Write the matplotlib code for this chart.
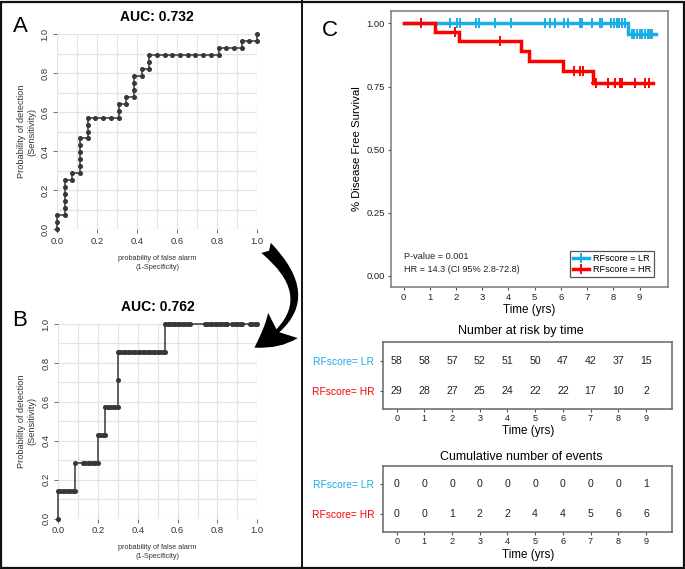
import matplotlib
matplotlib.use('Agg')
import matplotlib.pyplot as plt
from matplotlib.patches import FancyArrowPatch, Rectangle
from matplotlib.lines import Line2D
import numpy as np

plt.rcParams['font.family'] = ['Liberation Sans', 'DejaVu Sans']

W, H = 685, 569
fig = plt.figure(figsize=(W / 100, H / 100), dpi=100)

# ---------------- data ----------------
# ROC A: false positives out of 26, true positives out of 28 at each threshold
roc_a_fp = [0, 0, 0, 1, 1, 1, 1, 1, 1, 2, 2, 3, 3, 3, 3, 3, 3, 4, 4, 4, 4, 5, 6, 7, 8,
            8, 8, 9, 9, 10, 10, 10, 10, 11, 11, 12, 12, 12, 13, 14, 15, 16, 17, 18, 19,
            20, 21, 21, 22, 23, 24, 24, 25, 26, 26]
roc_a_tp = [0, 1, 2, 2, 3, 4, 5, 6, 7, 7, 8, 8, 9, 10, 11, 12, 13, 13, 14, 15, 16, 16, 16, 16, 16,
            17, 18, 18, 19, 19, 20, 21, 22, 22, 23, 23, 24, 25, 25, 25, 25, 25, 25, 25, 25,
            25, 25, 26, 26, 26, 26, 27, 27, 27, 28]
roc_a_neg, roc_a_pos = 26, 28
roc_a_auc = "AUC: 0.732"

# ROC B: false positives out of 80, true positives out of 7
roc_b_fp = [0, 0, 1, 2, 3, 4, 5, 6, 7, 7, 10, 11, 12, 13, 14, 15, 16, 16, 17, 18, 19, 19,
            20, 21, 22, 23, 24, 24, 24, 25, 26, 27, 28, 29, 30, 31, 32, 33, 34, 35, 36, 37,
            38, 39, 40, 41, 42, 43, 43, 44, 45, 46, 47, 48, 49, 50, 51, 52, 53, 59, 60, 61,
            62, 63, 64, 65, 66, 67, 68, 70, 71, 72, 73, 74, 77, 78, 79, 80]
roc_b_tp = [0, 1, 1, 1, 1, 1, 1, 1, 1, 2, 2, 2, 2, 2, 2, 2, 2, 3, 3, 3, 3, 4,
            4, 4, 4, 4, 4, 5, 6, 6, 6, 6, 6, 6, 6, 6, 6, 6, 6, 6, 6, 6,
            6, 6, 6, 6, 6, 6, 7, 7, 7, 7, 7, 7, 7, 7, 7, 7, 7, 7, 7, 7,
            7, 7, 7, 7, 7, 7, 7, 7, 7, 7, 7, 7, 7, 7, 7, 7]
roc_b_neg, roc_b_pos = 80, 7
roc_b_auc = "AUC: 0.762"

# Kaplan-Meier
lr_event_times = [8.57]
lr_surv = [0.957]
lr_end = 9.63
lr_censor = [1.76, 2.04, 2.17, 2.78, 2.88, 3.48, 4.09, 5.41, 5.60, 5.79, 6.12, 6.27,
             6.71, 6.79, 7.18, 7.50, 7.57, 7.92, 8.04, 8.13, 8.23, 8.34, 8.43,
             8.70, 8.80, 8.90, 9.00, 9.10, 9.20, 9.30, 9.40, 9.48]
hr_event_times = [1.20, 2.10, 4.47, 4.78, 6.08, 7.22]
hr_surv = [0.964, 0.929, 0.890, 0.851, 0.813, 0.762]
hr_end = 9.50
hr_censor = [0.66, 1.95, 3.69, 6.48, 6.71, 6.86, 7.32, 7.79, 8.05, 8.24, 8.34,
             8.81, 9.19, 9.35]

groups = ["RFscore= LR", "RFscore= HR"]
legend_labels = ["RFscore = LR", "RFscore = HR"]
table_times = [0, 1, 2, 3, 4, 5, 6, 7, 8, 9]
risk_lr = [58, 58, 57, 52, 51, 50, 47, 42, 37, 15]
risk_hr = [29, 28, 27, 25, 24, 22, 22, 17, 10, 2]
events_lr = [0, 0, 0, 0, 0, 0, 0, 0, 0, 1]
events_hr = [0, 0, 1, 2, 2, 4, 4, 5, 6, 6]

BLUE = '#1aaee5'
RED = '#ff0000'


def ax_px(l, t, r, b):
    return fig.add_axes([l / W, 1 - b / H, (r - l) / W, (b - t) / H])


def ftext(x, y, s, **kw):
    return fig.text(x / W, 1 - y / H, s, **kw)


# ---------------- ROC panels ----------------
def roc_panel(box, fp, tp, nneg, npos, title, ty, label, ly):
    l, t, r, b = box
    ax = ax_px(l, t, r, b)
    ax.set_xlim(0, 1)
    ax.set_ylim(0, 1)
    ticks = np.round(np.arange(0, 1.01, 0.1), 1)
    for v in ticks:
        ax.axvline(v, color='#e3e3e3', lw=0.9, zorder=0)
        ax.axhline(v, color='#e3e3e3', lw=0.9, zorder=0)
    for s in ax.spines.values():
        s.set_visible(False)
    x = np.array(fp) / nneg
    y = np.array(tp) / npos
    ax.plot(x, y, color='#383838', lw=1.1, marker='o', ms=2.6, clip_on=False, zorder=3)
    ax.set_xticks([0, 0.2, 0.4, 0.6, 0.8, 1.0])
    ax.set_yticks([0, 0.2, 0.4, 0.6, 0.8, 1.0])
    ax.set_xticklabels(['0.0', '0.2', '0.4', '0.6', '0.8', '1.0'])
    ax.set_yticklabels(['0.0', '0.2', '0.4', '0.6', '0.8', '1.0'], rotation=90, va='center')
    ax.tick_params(length=3, width=0.6, color='#555555', labelsize=6.8, labelcolor='#333333', pad=2.5)
    cx = (l + r) / 2
    cy = (t + b) / 2
    ftext(cx, ty, title, ha='center', va='center', fontsize=10, fontweight='bold')
    ftext(cx, b + 29, 'probability of false alarm', ha='center', va='center', fontsize=5.2, color='#333333')
    ftext(cx, b + 38, '(1-Specificity)', ha='center', va='center', fontsize=5.2, color='#333333')
    ftext(22, cy, 'Probability of detection', ha='center', va='center', rotation=90, fontsize=6.6, color='#333333')
    ftext(32, cy, '(Sensitivity)', ha='center', va='center', rotation=90, fontsize=6.6, color='#333333')
    ftext(20, ly, label, ha='center', va='center', fontsize=16)
    return ax


roc_panel((57, 34, 257, 229), roc_a_fp, roc_a_tp, roc_a_neg, roc_a_pos, roc_a_auc, 17.3, 'A', 26)
roc_panel((58, 324, 257.3, 518.7), roc_b_fp, roc_b_tp, roc_b_neg, roc_b_pos, roc_b_auc, 307.3, 'B', 321)

# ---------------- KM panel ----------------
ax = ax_px(390.7, 11, 667.7, 287)
ax.set_xlim(-0.49, 10.07)
ax.set_ylim(-0.044, 1.049)


def km(ax, ev_t, surv, end, cens, color, z):
    xs = [0] + list(ev_t) + [end]
    ys = [1.0] + list(surv) + [surv[-1]]
    ax.step(xs, ys, where='post', color=color, lw=2.5, zorder=z, solid_joinstyle='miter')
    ev = np.array(ev_t)
    sv = np.array([1.0] + list(surv))
    cy = sv[np.searchsorted(ev, np.array(cens), side='right')]
    ax.plot(cens, cy, ls='none', marker='+', ms=7.5, mew=1.4, color=color, zorder=z)


km(ax, lr_event_times, lr_surv, lr_end, lr_censor, BLUE, 3)
km(ax, hr_event_times, hr_surv, hr_end, hr_censor, RED, 4)
ax.set_xticks(table_times)
ax.set_yticks([0, 0.25, 0.5, 0.75, 1.0])
ax.set_yticklabels(['0.00', '0.25', '0.50', '0.75', '1.00'])
for s in ax.spines.values():
    s.set_color('#7a7a7a')
    s.set_linewidth(1.1)
ax.tick_params(length=2.5, width=0.8, color='#555555', labelsize=6.8, labelcolor='#222222', pad=1.5)
ax.set_ylabel('% Disease Free Survival', fontsize=8.2, labelpad=3)
ftext(528.7, 310, 'Time (yrs)', ha='center', va='center', fontsize=8.4)
ax.text(0, 0.078, 'P-value = 0.001', fontsize=6.6, va='center', color='#222222')
ax.text(0, 0.025, 'HR = 14.3 (CI 95% 2.8-72.8)', fontsize=6.6, va='center', color='#222222')
handles = [Line2D([], [], color=c, lw=2.5, marker='+', ms=7.5, mew=1.4) for c in (BLUE, RED)]
leg = ax.legend(handles, legend_labels, loc='lower right', bbox_to_anchor=(0.9516, 0.035),
                borderaxespad=0, fontsize=6.6, fancybox=False, framealpha=1, edgecolor='#555555',
                handlelength=1.8, handletextpad=0.4, borderpad=0.35, labelspacing=0.25)
leg.get_frame().set_linewidth(0.9)
ftext(330, 30, 'C', ha='center', va='center', fontsize=16)


# ---------------- tables ----------------
def table(box, vals_lr, vals_hr, title, title_y, xlab_y):
    l, t, r, b = box
    ta = ax_px(l, t, r, b)
    ta.set_xlim(-0.484, 9.94)
    ta.set_ylim(-0.58, 1.62)
    for i, tt in enumerate(table_times):
        ta.text(tt, 1, str(vals_lr[i]), ha='center', va='center', fontsize=7.6, color='#222222')
        ta.text(tt, 0, str(vals_hr[i]), ha='center', va='center', fontsize=7.6, color='#222222')
    ta.set_xticks(table_times)
    ta.set_yticks([1, 0])
    ta.set_yticklabels(groups)
    for lab, c in zip(ta.get_yticklabels(), (BLUE, RED)):
        lab.set_color(c)
    for s in ta.spines.values():
        s.set_color('#666666')
        s.set_linewidth(1.1)
    ta.tick_params(axis='y', length=2.5, width=0.8, color='#555555', labelsize=7.4, pad=4)
    ta.tick_params(axis='x', length=2.5, width=0.8, color='#555555', labelsize=6.6, labelcolor='#222222', pad=1.5)
    ftext(521, title_y, title, ha='center', va='center', fontsize=9)
    ftext(528, xlab_y, 'Time (yrs)', ha='center', va='center', fontsize=8.4)


table((383.3, 341.7, 672, 408.7), risk_lr, risk_hr, 'Number at risk by time', 330.7, 430.7)
table((383.3, 465.7, 672, 531.7), events_lr, events_hr, 'Cumulative number of events', 456.7, 555)

# ---------------- arrow & borders ----------------
arrow = FancyArrowPatch(posA=(264 / W, 1 - 246 / H), posB=(252 / W, 1 - 349 / H),
                        transform=fig.transFigure, connectionstyle="arc3,rad=-0.7",
                        arrowstyle="fancy,head_length=2.6,head_width=2.8,tail_width=1.0",
                        mutation_scale=10, color='black', lw=0)
fig.add_artist(arrow)

fig.add_artist(Rectangle((1 / W, 1 / H), (W - 2) / W, (H - 2.5) / H, transform=fig.transFigure,
                         fill=False, ec='#111111', lw=1.6))
fig.add_artist(Line2D([302 / W, 302 / W], [0, 1], transform=fig.transFigure, color='#111111', lw=1.4))

fig.savefig('out.png', dpi=100)
